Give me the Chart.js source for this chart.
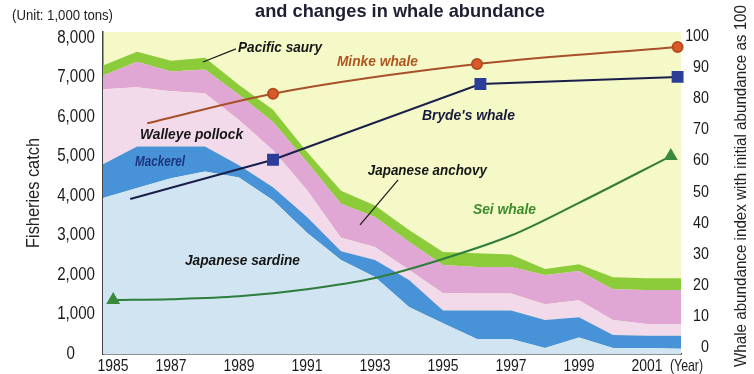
<!DOCTYPE html>
<html>
<head>
<meta charset="utf-8">
<script src="https://cdn.jsdelivr.net/npm/chart.js@4.4.1/dist/chart.umd.min.js"></script>
<style>
  html, body { margin: 0; padding: 0; background: #fff; }
  #wrap { width: 754px; height: 374px; }
</style>
</head>
<body>
<div id="wrap"><canvas id="chartCanvas" width="754" height="374"></canvas></div>
<script>
// Fisheries catch by species (1,000 tons)
var years    = [1985, 1986, 1987, 1988, 1989, 1990, 1991, 1992, 1993, 1994, 1995, 1996, 1997, 1998, 1999, 2000, 2001, 2002];
var sardine  = [3950, 4200, 4450, 4620, 4470, 3890, 3070, 2380, 1950, 1190, 780, 380, 380, 150, 420, 150, 150, 130];
var mackerel = [850, 1050, 800, 630, 310, 330, 400, 220, 430, 680, 320, 720, 720, 710, 510, 330, 310, 330];
var pollock  = [1900, 1500, 1400, 1350, 1140, 940, 680, 340, 330, 260, 440, 430, 430, 400, 430, 380, 300, 300];
var anchovy  = [350, 650, 500, 600, 640, 710, 710, 860, 760, 710, 710, 670, 670, 740, 740, 780, 860, 860];
var saury    = [250, 250, 270, 300, 250, 310, 250, 330, 290, 300, 330, 350, 320, 150, 170, 300, 300, 300];

// Whale abundance index (initial abundance = 100)
var minkeYears = [1986.3, 1990, 1996, 2001.9];
var minkeIndex = [72, 81.5, 91, 96.5];
var brydeYears = [1985.8, 1990, 1996.1, 2001.9];
var brydeIndex = [47.7, 60.3, 84.6, 86.9];
var seiYears = [1985.3, 1987, 1989, 1991, 1993, 1995, 1997, 1999, 2001.7];
var seiIndex = [15.3, 15.6, 16.5, 18.8, 22.4, 28.5, 36, 46.5, 61.5];

var catchTicks = [0, 1000, 2000, 3000, 4000, 5000, 6000, 7000, 8000];
var indexTicks = [0, 10, 20, 30, 40, 50, 60, 70, 80, 90, 100];
var yearTicks = [1985, 1987, 1989, 1991, 1993, 1995, 1997, 1999, 2001];

var SANS = '"Liberation Sans", Arial, sans-serif';

function pairs(xs, ys) {
  return xs.map(function (x, i) { return { x: x, y: ys[i] }; });
}

function area(label, values, color, fill) {
  return {
    label: label,
    data: pairs(years, values),
    backgroundColor: color,
    borderWidth: 0,
    pointRadius: 0,
    fill: fill,
    tension: 0,
    order: 1,
    yAxisID: 'y'
  };
}

// text squeezed horizontally to get the condensed look (sx) or to fit a width
function drawText(ctx, text, x, y, o) {
  ctx.save();
  ctx.font = (o.style || '') + ' ' + o.size + 'px ' + SANS;
  var sx = o.sx || 1;
  if (o.width) sx = o.width / ctx.measureText(text).width;
  ctx.translate(x, y);
  if (o.rotate) ctx.rotate(o.rotate);
  ctx.scale(sx, 1);
  ctx.textAlign = o.align || 'left';
  ctx.textBaseline = o.baseline || 'middle';
  ctx.fillStyle = o.color || '#1a1a1a';
  ctx.fillText(text, 0, 0);
  ctx.restore();
}

// series names written on the plot, placed in data units
var seriesLabels = [
  { text: 'Pacific saury', x: 1988.97, y: 7747, w: 84, color: '#161616' },
  { text: 'Minke whale', x: 1991.88, y: 7392, w: 81, color: '#b0561f' },
  { text: 'Walleye pollock', x: 1986.09, y: 5544, w: 103, color: '#161616' },
  { text: 'Mackerel', x: 1985.94, y: 4861, w: 50, color: '#1d3580' },
  { text: "Bryde's whale", x: 1994.38, y: 6025, w: 93, color: '#161a3a' },
  { text: 'Japanese anchovy', x: 1992.79, y: 4633, w: 119, color: '#161616' },
  { text: 'Sei whale', x: 1995.88, y: 3646, w: 63, color: '#3d8c2c' },
  { text: 'Japanese sardine', x: 1987.41, y: 2354, w: 115, color: '#161616' }
];
var leaders = [
  [1987.94, 7392, 1988.91, 7722],
  [1993.68, 4405, 1992.56, 3266]
];

var plotBackground = {
  id: 'plotBackground',
  beforeDraw: function (chart) {
    var a = chart.chartArea, ctx = chart.ctx;
    ctx.save();
    ctx.fillStyle = '#f5f8c7';
    ctx.fillRect(a.left, a.top, a.right - a.left, a.bottom - a.top);
    ctx.restore();
  }
};

var annotations = {
  id: 'annotations',
  afterDatasetsDraw: function (chart) {
    var ctx = chart.ctx, xs = chart.scales.x, ys = chart.scales.y;
    ctx.save();
    ctx.strokeStyle = '#1a1a1a';
    ctx.lineWidth = 1.2;
    leaders.forEach(function (l) {
      ctx.beginPath();
      ctx.moveTo(xs.getPixelForValue(l[0]), ys.getPixelForValue(l[1]));
      ctx.lineTo(xs.getPixelForValue(l[2]), ys.getPixelForValue(l[3]));
      ctx.stroke();
    });
    ctx.restore();
    seriesLabels.forEach(function (s) {
      drawText(ctx, s.text, xs.getPixelForValue(s.x), ys.getPixelForValue(s.y),
        { size: 15, style: 'italic bold', width: s.w, color: s.color });
    });
  },
  afterDraw: function (chart) {
    var ctx = chart.ctx, xs = chart.scales.x, ys = chart.scales.y, y1 = chart.scales.y1;

    // tick labels
    xs.ticks.forEach(function (t) {
      var shift = t.value === yearTicks[0] ? 10 : 0;
      drawText(ctx, String(t.value), xs.getPixelForValue(t.value) + shift, 366,
        { size: 17, sx: 0.82, align: 'center' });
    });
    ys.ticks.forEach(function (t) {
      var right = t.value === 0 ? 75 : 95;
      drawText(ctx, t.value.toLocaleString('en-US'), right, ys.getPixelForValue(t.value),
        { size: 18, sx: 0.84, align: 'right' });
    });
    y1.ticks.forEach(function (t) {
      drawText(ctx, String(t.value), 709, y1.getPixelForValue(t.value),
        { size: 17, sx: 0.84, align: 'right' });
    });

    // titles
    drawText(ctx, 'and changes in whale abundance', 400, 17,
      { size: 19, style: 'bold', width: 290, align: 'center', baseline: 'alphabetic', color: '#1d1f33' });
    drawText(ctx, '(Unit: 1,000 tons)', 12, 16, { size: 14, width: 101, color: '#222' });
    drawText(ctx, '(Year)', 670, 366, { size: 17, width: 33 });
    drawText(ctx, 'Fisheries catch', 34, 193,
      { size: 18, width: 110, align: 'center', rotate: -Math.PI / 2, color: '#222' });
    drawText(ctx, 'Whale abundance index with initial abundance as 100', 741, 186,
      { size: 17, width: 362, align: 'center', rotate: -Math.PI / 2, color: '#222' });
  }
};

var ctx = document.getElementById('chartCanvas').getContext('2d');

var chart = new Chart(ctx, {
  type: 'line',
  data: {
    datasets: [
      area('Japanese sardine', sardine, '#d0e4f1', 'origin'),
      area('Mackerel', mackerel, '#4892d8', '-1'),
      area('Walleye pollock', pollock, '#f2daea', '-1'),
      area('Japanese anchovy', anchovy, '#e0a6d4', '-1'),
      area('Pacific saury', saury, '#8ccc3a', '-1'),
      {
        label: 'Minke whale',
        data: pairs(minkeYears, minkeIndex),
        borderColor: '#a8502a',
        borderWidth: 2,
        backgroundColor: '#d85a2a',
        pointBorderColor: '#b84a20',
        pointRadius: [0, 5, 5, 5],
        pointStyle: 'circle',
        cubicInterpolationMode: 'monotone',
        fill: false,
        clip: false,
        order: 0,
        yAxisID: 'y1'
      },
      {
        label: "Bryde's whale",
        data: pairs(brydeYears, brydeIndex),
        borderColor: '#1a1f4a',
        borderWidth: 2,
        backgroundColor: '#2c3e9a',
        pointBorderColor: '#2c3e9a',
        pointRadius: [0, 7, 7, 7],
        pointStyle: 'rect',
        tension: 0,
        fill: false,
        clip: false,
        order: 0,
        yAxisID: 'y1'
      },
      {
        label: 'Sei whale',
        data: pairs(seiYears, seiIndex),
        borderColor: '#2e7d3c',
        borderWidth: 2,
        backgroundColor: '#3a8a3e',
        pointBorderColor: '#3a8a3e',
        pointRadius: seiYears.map(function (y, i) { return (i === 0 || i === seiYears.length - 1) ? 6 : 0; }),
        pointStyle: 'triangle',
        cubicInterpolationMode: 'monotone',
        fill: false,
        clip: false,
        order: 0,
        yAxisID: 'y1'
      }
    ]
  },
  options: {
    responsive: false,
    animation: false,
    devicePixelRatio: 1,
    layout: { padding: { top: 32, left: 0, right: 0, bottom: 0 } },
    plugins: {
      legend: { display: false },
      tooltip: { enabled: false },
      title: { display: false }
    },
    scales: {
      x: {
        type: 'linear',
        min: 1985,
        max: 2002,
        afterBuildTicks: function (scale) {
          scale.ticks = yearTicks.map(function (v) { return { value: v }; });
        },
        afterFit: function (scale) { scale.height = 20; },
        grid: { display: false, drawTicks: false },
        border: { display: true, color: '#222', width: 1.5 },
        ticks: { display: false }
      },
      y: {
        stacked: true,
        position: 'left',
        min: 0,
        max: 8150,
        afterBuildTicks: function (scale) {
          scale.ticks = catchTicks.map(function (v) { return { value: v }; });
        },
        afterFit: function (scale) { scale.width = 103; },
        grid: { display: false, drawTicks: false },
        border: { display: true, color: '#444', width: 1.5 },
        ticks: { display: false }
      },
      y1: {
        position: 'right',
        min: -2,
        max: 101.3,
        afterBuildTicks: function (scale) {
          scale.ticks = indexTicks.map(function (v) { return { value: v }; });
        },
        afterFit: function (scale) { scale.width = 73; },
        grid: { display: false, drawTicks: false },
        border: { display: false },
        ticks: { display: false }
      }
    }
  },
  plugins: [plotBackground, annotations]
});
</script>
</body>
</html>
